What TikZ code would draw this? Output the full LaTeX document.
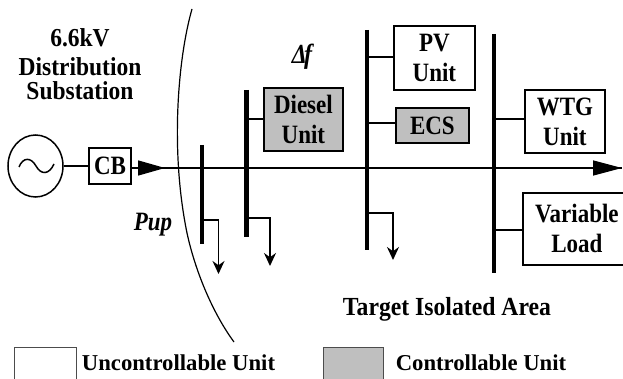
\documentclass[tikz,border=0pt]{standalone}
\usepackage{fontspec}
\usepackage{graphicx}
\setmainfont{Liberation Serif}
\usetikzlibrary{arrows.meta,shapes.geometric}
\newcommand{\tall}[1]{\scalebox{1}[1.15]{#1}}
\definecolor{boxgray}{gray}{0.75}
\tikzset{
  x=1pt,y=-1pt,
  lbl/.style={font=\fontsize{23}{30}\selectfont\bfseries,align=center,inner sep=0pt,text=black},
  unitbox/.style={draw=black,line width=1.8pt,fill=white,inner sep=0pt,anchor=north west,lbl},
  ctrlbox/.style={unitbox,fill=boxgray},
  bus/.style={line width=4.6pt,black},
  wire/.style={line width=1.5pt,black},
  feed/.style={wire,-{Triangle[length=29pt,width=15pt]}},
  load/.style={wire,-{Stealth[length=13pt,width=12pt]}},
  legendbox/.style={draw=black!70,line width=1pt}
}
\begin{document}
\begin{tikzpicture}
\useasboundingbox (0,0) rectangle (623,379);
% boundary arc
\draw[line width=1.2pt] (192,9) .. controls (178,58) and (170,150) .. (187,233) .. controls (195,270) and (212,312) .. (234,342);
% nodes
\node[lbl,font=\fontsize{23.5}{30}\selectfont\bfseries] (title) at (80,64.5) {\scalebox{1}[1.1]{6.6kV}\\[-1pt]\scalebox{1}[1.1]{Distribution}\\[-6pt]\scalebox{1}[1.1]{Substation}};
\node[draw=black,line width=1.5pt,ellipse,minimum width=55pt,minimum height=62pt,inner sep=0pt] (gen) at (35.5,166) {};
\draw[line width=1.5pt] (19,167) .. controls (23,157) and (31,157) .. (36,166) .. controls (41,175) and (49,175) .. (54,164);
\node[unitbox,line width=2.4pt,minimum width=42pt,minimum height=36pt,anchor=center] (cb) at (110,166) {\tall{CB}};
\coordinate (end) at (622,168);
\coordinate (cbout) at (132,168);
\coordinate (b1t) at (202,145); \coordinate (b1b) at (202,244);
\coordinate (b2t) at (246.5,90); \coordinate (b2b) at (246.5,237);
\coordinate (b3t) at (367,30); \coordinate (b3b) at (367,250);
\coordinate (b4t) at (494,34); \coordinate (b4b) at (494,273);
\draw[wire] (gen.east) -- (cb.west);
\draw[wire] (cbout) -- (end);
\draw[wire,-{Triangle[length=27pt,width=15pt]}] (cbout) -- ++(33,0);
\draw[feed] (400,168) -- (end);
\draw[bus] (b1t) -- (b1b);
\draw[bus] (b2t) -- (b2b);
\draw[bus] (b3t) -- (b3b);
\draw[bus] (b4t) -- (b4b);
\node[ctrlbox,minimum width=79pt,minimum height=63pt] (diesel) at (263,87) {\tall{Diesel}\\\tall{Unit}};
\node[unitbox,minimum width=81pt,minimum height=64pt] (pv) at (393,25) {\tall{PV}\\\tall{Unit}};
\node[ctrlbox,minimum width=73pt,minimum height=35pt] (ecs) at (395,107) {\tall{ECS}};
\node[unitbox,minimum width=80pt,minimum height=63pt] (wtg) at (524,89) {\tall{WTG}\\\tall{Unit}};
\node[unitbox,minimum width=108pt,minimum height=72pt] (vload) at (522,192) {\tall{Variable}\\\tall{Load}};
\coordinate (j2a) at (246.5,119);
\coordinate (j3a) at (367,57); \coordinate (j3b) at (367,123);
\coordinate (j4a) at (494,119); \coordinate (j4b) at (494,230);
\draw[wire] (j2a) -- (diesel.west |- j2a);
\draw[wire] (j3a) -- (pv.west |- j3a);
\draw[wire] (j3b) -- (ecs.west |- j3b);
\draw[wire] (j4a) -- (wtg.west |- j4a);
\draw[wire] (j4b) -- (vload.west |- j4b);
\coordinate (s1) at (202,220); \coordinate (s2) at (246.5,218); \coordinate (s3) at (367,213);
\coordinate (l1) at (218.5,274); \coordinate (l2) at (270,266); \coordinate (l3) at (393,260);
\draw[load] (s1) -| (l1);
\draw[load] (s2) -| (l2);
\draw[load] (s3) -| (l3);
% labels
\node[lbl,anchor=base,font=\fontsize{24}{26}\selectfont\bfseries\itshape] (df) at (302,64) {\tall{Δ\kern-3pt f}};
\node[lbl,anchor=base,font=\fontsize{23}{25}\selectfont\bfseries\itshape] (pup) at (153,231) {\tall{Pup}};
\node[lbl,anchor=base,font=\fontsize{23.7}{26}\selectfont\bfseries] (area) at (447,315) {\scalebox{1}[1.1]{Target Isolated Area}};
% legend
\begin{scope}
\clip (0,0) rectangle (623,379);
\draw[legendbox] (14,347) rectangle (76,395);
\draw[legendbox,fill=boxgray] (323,347) rectangle (383,395);
\end{scope}
\node[lbl,anchor=base,font=\fontsize{22.7}{25}\selectfont\bfseries] (lg1) at (178.5,370) {Uncontrollable Unit};
\node[lbl,anchor=base,font=\fontsize{22.7}{25}\selectfont\bfseries] (lg2) at (481,370) {Controllable Unit};
\end{tikzpicture}
\end{document}
